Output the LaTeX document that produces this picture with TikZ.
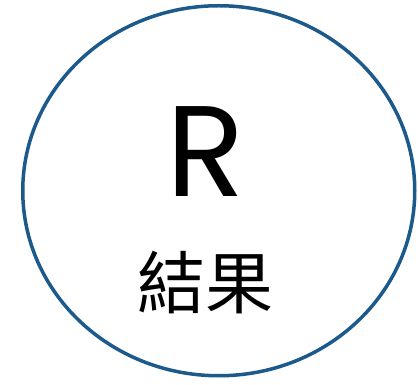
\documentclass[tikz,border=0pt]{standalone}
\usepackage{fontspec}
\setmainfont{Poppins}
\newfontfamily\cjkfont{Noto Sans CJK TC}
\usetikzlibrary{shapes.geometric, positioning}
\definecolor{ringblue}{RGB}{27,90,138}
\tikzset{
  ring/.style={ellipse, draw=ringblue, line width=3.5pt, minimum width=392pt, minimum height=370pt, inner sep=0pt},
  bigletter/.style={font=\fontsize{129}{129}\selectfont, inner sep=0pt, anchor=base},
  cjklabel/.style={font=\cjkfont\fontsize{68}{68}\selectfont, inner sep=0pt},
}

\begin{document}
\begin{tikzpicture}[x=1pt, y=1pt]
  \useasboundingbox (0,0) rectangle (418,385);

  % --- OUTER RING ---
  \node[ring] (circ) at (218.75,194.25) {};

  % --- TEXT ---
  \node[bigletter] (letter) at (206,188) {R};
  \node[cjklabel] (word) at (205,102.5) {結果};

\end{tikzpicture}
\end{document}
